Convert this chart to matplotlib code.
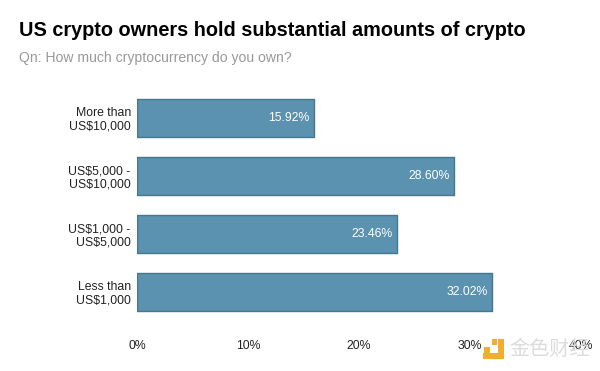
import matplotlib
matplotlib.use('Agg')
import matplotlib.pyplot as plt
from matplotlib.patches import Rectangle

plt.rcParams['font.family'] = ['Liberation Sans', 'DejaVu Sans']

# bottom to top
categories = ['Less than\nUS$1,000', 'US$1,000 -\nUS$5,000', 'US$5,000 -\nUS$10,000', 'More than\nUS$10,000']
values = [32.02, 23.46, 28.60, 15.92]
xticks = [0, 10, 20, 30, 40]
xticklabels = ['0%', '10%', '20%', '30%', '40%']
title = 'US crypto owners hold substantial amounts of crypto'
subtitle = 'Qn: How much cryptocurrency do you own?'
watermark = '金色财经'

W, H = 600, 371
fig = plt.figure(figsize=(6, 3.71), dpi=100)
ax = fig.add_axes([137/W, 1-321/H, (581-137)/W, (321-89)/H])

bars = ax.barh(range(4), values, height=0.65, color='#5b92b0', edgecolor='#44788f',
               linewidth=1.0, joinstyle='round')
for b, v in zip(bars, values):
    ax.text(v - 0.42, b.get_y() + b.get_height()/2, '%.2f%%' % v, color='white', fontsize=8.8,
            ha='right', va='center')

ax.set_xlim(0, 40)
ax.set_ylim(-0.5, 3.5)
ax.set_yticks(range(4))
ax.set_yticklabels(categories, fontsize=8.8, color='#222222', linespacing=1.1)
ax.set_xticks(xticks)
ax.set_xticklabels(xticklabels, fontsize=8.8, color='#222222')
ax.tick_params(length=0)
ax.tick_params(axis='y', pad=4.5)
ax.tick_params(axis='x', pad=13.5)
for s in ax.spines.values():
    s.set_visible(False)

fig.text(19/W, 1-31/H, title, fontsize=14.3, fontweight='bold', color='black', va='center')
fig.text(19/W, 1-58/H, subtitle, fontsize=10.1, color='#999999', va='center')

# watermark, bottom right
gold = '#f0ad2e'
for x0, y0, x1, y1 in [(483, 353, 504, 359), (498, 339, 504, 359), (492, 339, 497, 345), (484, 347, 490, 353)]:
    fig.add_artist(Rectangle((x0/W, 1-y1/H), (x1-x0)/W, (y1-y0)/H, transform=fig.transFigure,
                             facecolor=gold, edgecolor='none'))
fig.text(550/W, 1-349/H, watermark, fontsize=14.5, color='#dcdcdc', ha='center', va='center',
         family=['Noto Sans CJK SC', 'DejaVu Sans'])

fig.savefig('out.png', dpi=100)
